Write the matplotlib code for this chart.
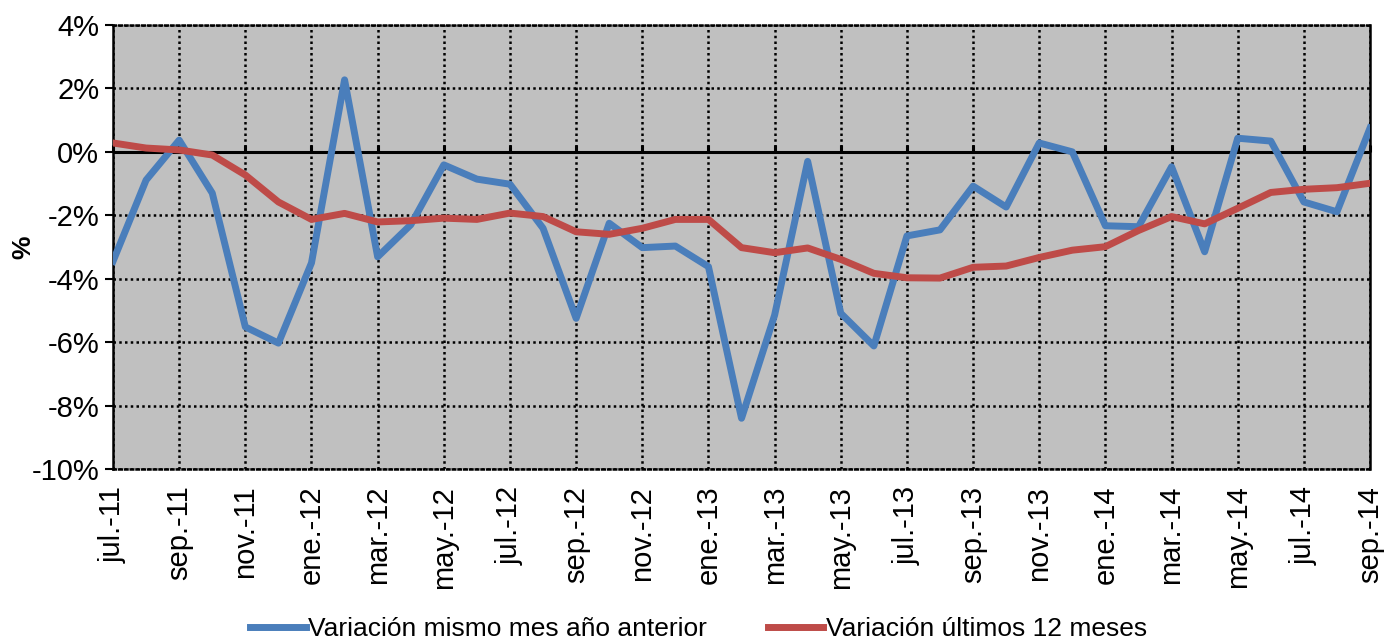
import numpy as np
from matplotlib import pyplot as plt

plt.rcParams['font.family'] = ['Liberation Sans', 'DejaVu Sans']

# meses jul.-11 .. sep.-14
meses = ["jul.-11", "ago.-11", "sep.-11", "oct.-11", "nov.-11", "dic.-11",
         "ene.-12", "feb.-12", "mar.-12", "abr.-12", "may.-12", "jun.-12",
         "jul.-12", "ago.-12", "sep.-12", "oct.-12", "nov.-12", "dic.-12",
         "ene.-13", "feb.-13", "mar.-13", "abr.-13", "may.-13", "jun.-13",
         "jul.-13", "ago.-13", "sep.-13", "oct.-13", "nov.-13", "dic.-13",
         "ene.-14", "feb.-14", "mar.-14", "abr.-14", "may.-14", "jun.-14",
         "jul.-14", "ago.-14", "sep.-14"]

# Variacion mismo mes año anterior (%)
var_mes = [-3.45, -0.89, 0.37, -1.30, -5.52, -6.03,
           -3.50, 2.27, -3.31, -2.30, -0.41, -0.86,
           -1.02, -2.41, -5.25, -2.25, -3.02, -2.97,
           -3.62, -8.40, -5.15, -0.30, -5.09, -6.12,
           -2.65, -2.46, -1.08, -1.74, 0.28, 0.00,
           -2.33, -2.36, -0.47, -3.15, 0.43, 0.34,
           -1.58, -1.89, 0.75]

# Variacion ultimos 12 meses (%)
var_12 = [0.28, 0.12, 0.06, -0.10, -0.73, -1.58,
          -2.13, -1.94, -2.21, -2.17, -2.09, -2.13,
          -1.93, -2.04, -2.52, -2.60, -2.41, -2.13,
          -2.13, -3.02, -3.18, -3.03, -3.39, -3.83,
          -3.97, -3.98, -3.64, -3.60, -3.33, -3.10,
          -2.99, -2.48, -2.04, -2.27, -1.78, -1.28,
          -1.18, -1.13, -0.99]

x = np.arange(len(meses))

fig = plt.figure(figsize=(13.97, 6.39), dpi=100)
ax = fig.add_axes([0.0809, 0.266, 0.8998, 0.6949])
ax.set_facecolor('#C0C0C0')

ax.axhline(0, color='black', lw=2.2, zorder=2)
ax.plot(x, var_mes, color='#4A7EBB', lw=5, label='Variación mismo mes año anterior', zorder=3)
ax.plot(x, var_12, color='#BE4B48', lw=5, label='Variación últimos 12 meses', zorder=4)

ax.set_xlim(0, len(meses) - 1)
ax.set_ylim(-10, 4)
ax.set_yticks(np.arange(-10, 5, 2))
ax.set_yticklabels([f"{v}%" for v in range(-10, 5, 2)], fontsize=21)
ax.set_xticks(x[::2])
ax.set_xticklabels(meses[::2], rotation=90, fontsize=21)
ax.tick_params(axis='x', length=0, pad=12)
ax.tick_params(axis='y', length=6, width=1.5, direction='out', pad=4)

ax.grid(True, color='black', linestyle=(0, (1, 1.3)), lw=1.8)
ax.set_axisbelow(True)

for s in ['top', 'bottom']:
    ax.spines[s].set_linestyle((0, (1, 1.3)))
    ax.spines[s].set_linewidth(1.8)
for s in ['left', 'right']:
    ax.spines[s].set_linewidth(1.8)
    ax.spines[s].set_color('black')

# marcas del eje en 0%
sec = ax.secondary_xaxis(10 / 14)
sec.set_xticks(x[::2])
sec.set_xticklabels([])
sec.tick_params(length=5, width=2.2, direction='out', color='black')
sec.spines['bottom'].set_linewidth(2.2)
sec.spines['bottom'].set_color('black')

ax.set_ylabel('%', fontsize=19, fontweight='bold')
ax.yaxis.set_label_coords(-0.062, 0.5)

fig.legend(loc='lower center', bbox_to_anchor=(0.5, -0.04), ncol=2, frameon=False,
           fontsize=19, handlelength=2.1, handletextpad=0.1, columnspacing=2.3)

fig.savefig('out.png', dpi=100)
